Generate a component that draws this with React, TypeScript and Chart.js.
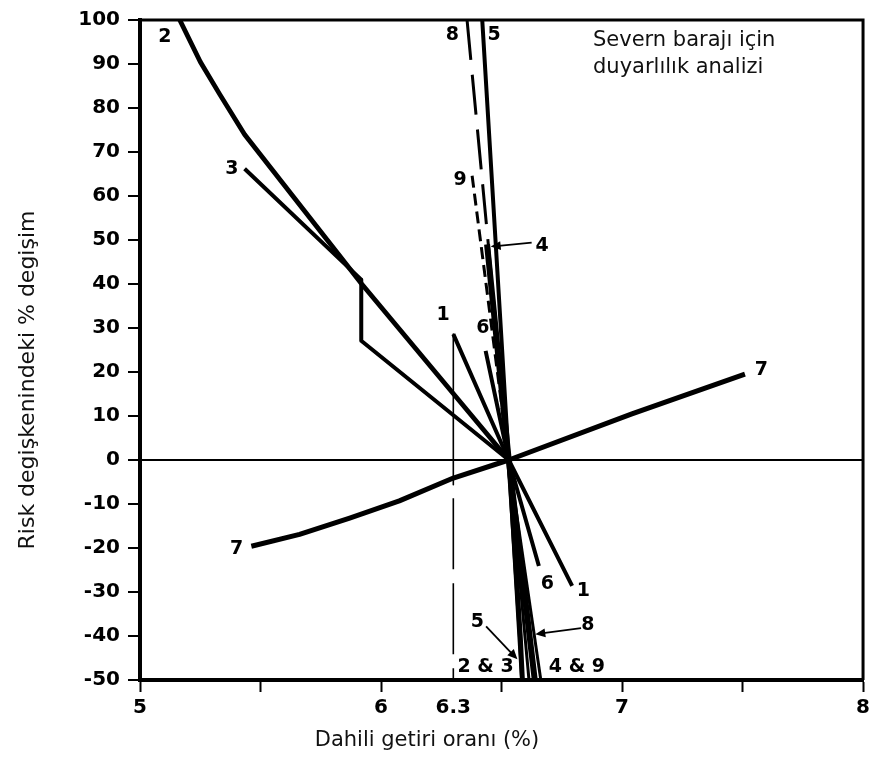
import React, { useEffect, useRef } from "react";
import { Chart, registerables } from "chart.js";

Chart.register(...registerables);

// Axis ticks
const xTicks = [5, 5.5, 6, 6.3, 6.5, 7, 7.5, 8];
const xTickLabels = ["5", "", "6", "6.3", "", "7", "", "8"];
const yMin = -50;
const yMax = 100;

// Curves (x = internal rate of return %, y = % change in risk variable)
const line1X = [6.3, 6.53, 6.793];
const line1Y = [28.6, 0, -28.6];

const line2X = [5.165, 5.25, 5.331, 5.434, 5.92, 6.53, 6.552, 6.578, 6.587];
const line2Y = [100, 90.5, 83.1, 74, 40, 0, -18, -40, -50];

const line3X = [5.434, 5.918, 5.918, 6.53];
const line3Y = [66.2, 41, 27.1, 0];

const line4X = [6.44, 6.53, 6.638];
const line4Y = [49, 0, -50];

const line5X = [6.42, 6.53, 6.585];
const line5Y = [100, 0, -50];

const line6X = [6.434, 6.53, 6.655];
const line6Y = [24.8, 0, -24.1];

const line7X = [5.462, 5.662, 5.87, 6.076, 6.3, 6.53, 7.041, 7.51];
const line7Y = [-19.6, -16.9, -13.2, -9.3, -4.1, 0, 10.5, 19.5];

const line8X = [6.357, 6.53, 6.614];
const line8Y = [100, 0, -50];

const line9X = [6.378, 6.53, 6.663];
const line9Y = [64.6, 0, -50];

// 6.3 % reference line
const refSolidX = [6.3, 6.3];
const refSolidY = [28.6, -5.6];
const refDashX = [6.3, 6.3];
const refDashY = [-8.7, -50];

// Curve labels
const curveLabels = ["2", "3", "1", "6", "9", "8", "5", "4", "7", "7", "6", "1", "5", "8", "2 & 3", "4 & 9"];
const curveLabelX = [5.103, 5.381, 6.258, 6.423, 6.328, 6.296, 6.469, 6.668, 7.578, 5.401, 6.69, 6.84, 6.40, 6.858, 6.434, 6.813];
const curveLabelY = [96.2, 66.2, 33, 30, 63.7, 96.5, 96.5, 48.6, 20.4, -20.2, -28.2, -29.9, -36.9, -37.6, -47, -47];

// Arrows (from label to curve)
const arrowFromX = [6.625, 6.436, 6.83];
const arrowFromY = [49.4, -37.8, -38.2];
const arrowToX = [6.455, 6.566, 6.64];
const arrowToY = [48.5, -45.3, -39.6];

const titleLines = ["Severn barajı için", "duyarlılık analizi"];
const xTitle = "Dahili getiri oranı (%)";
const yTitle = "Risk degişkenindeki % degişim";

const pts = (xs: number[], ys: number[]) => xs.map((x, i) => ({ x, y: ys[i] }));

const overlay = {
  id: "overlay",
  afterDatasetsDraw(chart: any) {
    const { ctx, chartArea: a, scales } = chart;
    const x = scales.x;
    const y = scales.y;
    ctx.save();
    // top & right frame
    ctx.strokeStyle = "#000";
    ctx.lineWidth = 3;
    ctx.beginPath();
    ctx.moveTo(a.left, a.top);
    ctx.lineTo(a.right, a.top);
    ctx.lineTo(a.right, a.bottom);
    ctx.stroke();

    // arrows
    ctx.lineWidth = 1.8;
    ctx.fillStyle = "#000";
    arrowFromX.forEach((fx, i) => {
      const x0 = x.getPixelForValue(fx);
      const y0 = y.getPixelForValue(arrowFromY[i]);
      const x1 = x.getPixelForValue(arrowToX[i]);
      const y1 = y.getPixelForValue(arrowToY[i]);
      const ang = Math.atan2(y1 - y0, x1 - x0);
      const hl = 10;
      const hw = 4.5;
      ctx.beginPath();
      ctx.moveTo(x0, y0);
      ctx.lineTo(x1 - Math.cos(ang) * hl * 0.8, y1 - Math.sin(ang) * hl * 0.8);
      ctx.stroke();
      ctx.beginPath();
      ctx.moveTo(x1, y1);
      ctx.lineTo(x1 - Math.cos(ang) * hl + Math.sin(ang) * hw, y1 - Math.sin(ang) * hl - Math.cos(ang) * hw);
      ctx.lineTo(x1 - Math.cos(ang) * hl - Math.sin(ang) * hw, y1 - Math.sin(ang) * hl + Math.cos(ang) * hw);
      ctx.closePath();
      ctx.fill();
    });

    // curve labels
    ctx.font = 'bold 19px "DejaVu Sans"';
    ctx.textAlign = "center";
    ctx.textBaseline = "middle";
    curveLabels.forEach((t, i) => {
      ctx.fillText(t, x.getPixelForValue(curveLabelX[i]), y.getPixelForValue(curveLabelY[i]));
    });

    // title inside plot
    ctx.font = '21px "DejaVu Sans"';
    ctx.textAlign = "left";
    ctx.fillStyle = "#111";
    ctx.fillText(titleLines[0], a.left + 453, a.top + 21);
    ctx.fillText(titleLines[1], a.left + 453, a.top + 48);

    // axis titles
    ctx.font = '21px "DejaVu Sans"';
    ctx.textAlign = "center";
    ctx.fillText(xTitle, a.left + 287, a.bottom + 61);
    ctx.save();
    ctx.translate(a.left - 112, a.top + 360);
    ctx.rotate(-Math.PI / 2);
    ctx.font = '22px "DejaVu Sans"';
    ctx.fillText(yTitle, 0, 0);
    ctx.restore();
    ctx.restore();
  },
};

const solid = (data: any, width: number) => ({
  data,
  showLine: true,
  borderColor: "#000",
  backgroundColor: "#000",
  borderWidth: width,
  pointRadius: 0,
  borderJoinStyle: "round",
  borderCapStyle: "butt",
  tension: 0,
});

export default function App() {
  const ref = useRef<HTMLCanvasElement>(null);
  useEffect(() => {
    if (!ref.current) return;
    const upperDash = (dash: number[]) => ({
      borderDash: (c: any) => (c.p0.parsed.y > 0.001 ? dash : []),
    });
    const chart = new Chart(ref.current, {
      type: "scatter",
      data: {
        datasets: [
          { ...solid(pts(refSolidX, refSolidY), 1.6) },
          { ...solid(pts(refDashX, refDashY), 1.6), borderDash: [71, 14] },
          { ...solid(pts(line7X, line7Y), 5) },
          { ...solid(pts(line2X, line2Y), 4.8) },
          { ...solid(pts(line3X, line3Y), 4) },
          { ...solid(pts(line1X, line1Y), 4) },
          { ...solid(pts(line6X, line6Y), 4) },
          { ...solid(pts(line8X, line8Y), 3), segment: upperDash([40, 15]) },
          { ...solid(pts(line9X, line9Y), 3), segment: upperDash([12, 6]) },
          { ...solid(pts(line5X, line5Y), 4) },
          { ...solid(pts(line4X, line4Y), 6) },
        ] as any,
      },
      options: {
        animation: false,
        responsive: false,
        maintainAspectRatio: false,
        layout: { padding: { top: 15, right: 9, left: 0, bottom: 0 } },
        plugins: {
          legend: { display: false },
          tooltip: { enabled: false },
          title: { display: false },
        },
        scales: {
          x: {
            type: "linear",
            min: 5,
            max: 8,
            afterBuildTicks: (s: any) => {
              s.ticks = xTicks.map((v) => ({ value: v }));
            },
            afterFit: (s: any) => {
              s.height = 78;
            },
            ticks: {
              autoSkip: false,
              maxRotation: 0,
              padding: 4,
              color: "#000",
              font: { family: "DejaVu Sans", size: 20, weight: "bold" },
              callback: (v: any) => {
                const i = xTicks.findIndex((t) => Math.abs(t - Number(v)) < 1e-6);
                return i >= 0 ? xTickLabels[i] : "";
              },
            },
            grid: {
              drawOnChartArea: false,
              drawTicks: true,
              tickLength: 12,
              tickWidth: 2,
              tickColor: (c: any) => (c.tick && Math.abs(c.tick.value - 6.3) < 1e-6 ? "rgba(0,0,0,0)" : "#000"),
            },
            border: { display: true, color: "#000", width: 4 },
          },
          y: {
            type: "linear",
            min: yMin,
            max: yMax,
            afterFit: (s: any) => {
              s.width = 140;
            },
            ticks: {
              stepSize: 10,
              padding: 8,
              color: "#000",
              font: { family: "DejaVu Sans", size: 20, weight: "bold" },
            },
            grid: {
              drawOnChartArea: true,
              drawTicks: true,
              tickLength: 12,
              tickWidth: 2,
              tickColor: "#000",
              lineWidth: 2,
              color: (c: any) => (c.tick && c.tick.value === 0 ? "#000" : "rgba(0,0,0,0)"),
            },
            border: { display: true, color: "#000", width: 4 },
          },
        },
      },
      plugins: [overlay],
    });
    return () => chart.destroy();
  }, []);
  return (
    <div style={{ position: "fixed", left: 0, top: 0, width: 874, height: 758, background: "#fff" }}>
      <canvas ref={ref} width={874} height={758} style={{ width: 874, height: 758, display: "block" }} />
    </div>
  );
}
